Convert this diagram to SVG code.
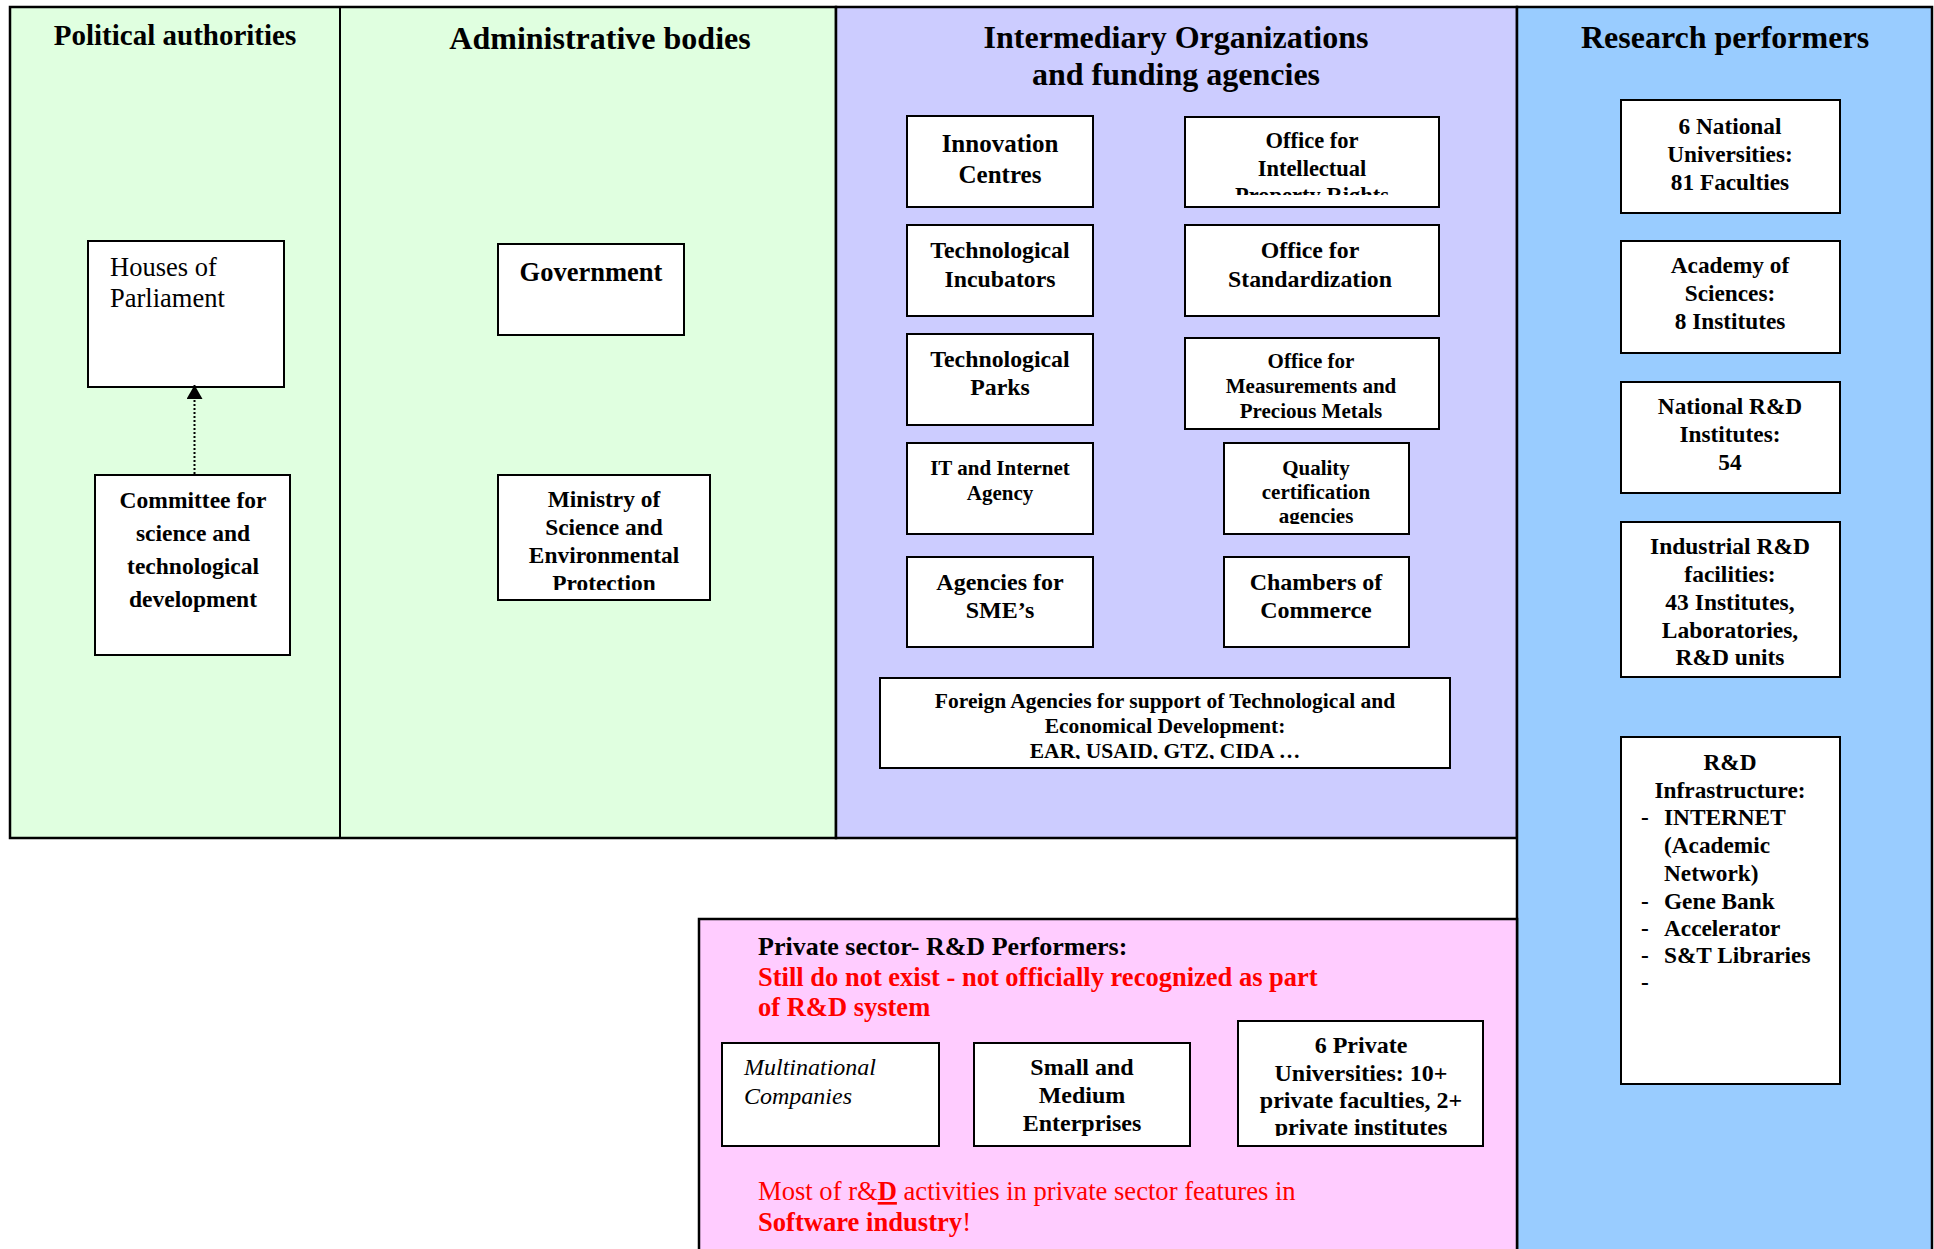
<svg xmlns="http://www.w3.org/2000/svg" width="1934" height="1249" viewBox="0 0 1934 1249">
<style>
text{font-family:"Liberation Serif","Times New Roman",serif;fill:#000}
.b{font-weight:bold}
.c{text-anchor:middle}
.t32{font-size:32px}
.box{fill:#fff;stroke:#000;stroke-width:2}
.panel{stroke:#000;stroke-width:2.5}
.red{fill:#ff0000}
</style>
<defs>
<marker id="ah" markerUnits="userSpaceOnUse" markerWidth="16" markerHeight="16" viewBox="0 0 14 16" refX="14" refY="8" orient="auto">
<path d="M0,0 L14,8 L0,16 z" fill="#000"/>
</marker>
<clipPath id="cIPR"><rect x="1185" y="117" width="254" height="78"/></clipPath>
<clipPath id="cMin"><rect x="498" y="475" width="212" height="115"/></clipPath>
<clipPath id="cQual"><rect x="1224" y="443" width="185" height="81"/></clipPath>
<clipPath id="cFor"><rect x="880" y="678" width="570" height="81"/></clipPath>
<clipPath id="cPriv"><rect x="1238" y="1021" width="245" height="115"/></clipPath>
</defs>

<g id="panels">
<rect class="panel" x="10" y="7" width="826" height="831" fill="#E0FFE0"/>
<line x1="340" y1="7" x2="340" y2="838" stroke="#000" stroke-width="2"/>
<rect class="panel" x="836" y="7" width="681" height="831" fill="#CCCCFF"/>
<rect class="panel" x="1517" y="7" width="415" height="1260" fill="#99CCFF"/>
<rect class="panel" x="699" y="919" width="818" height="350" fill="#FFCCFF"/>
<text class="b c" x="175" y="45" font-size="29">Political authorities</text>
<text class="b c t32" x="600" y="49">Administrative bodies</text>
<text class="b c t32" x="1176" y="48">Intermediary Organizations</text>
<text class="b c t32" x="1176" y="85">and funding agencies</text>
<text class="b c t32" x="1725" y="48">Research performers</text>
</g>

<g id="houses">
<rect class="box" x="88" y="241" width="196" height="146"/>
<text x="110" y="276" font-size="26.5">Houses of</text>
<text x="110" y="307" font-size="26.5">Parliament</text>
</g>
<g id="committee">
<rect class="box" x="95" y="475" width="195" height="180"/>
<text class="b c" x="193" font-size="23.5"><tspan x="193" y="508">Committee for</tspan><tspan x="193" y="541">science and</tspan><tspan x="193" y="574">technological</tspan><tspan x="193" y="607">development</tspan></text>
</g>
<g id="government">
<rect class="box" x="498" y="244" width="186" height="91"/>
<text class="b c" x="591" y="281" font-size="26.5">Government</text>
</g>
<g id="ministry">
<rect class="box" x="498" y="475" width="212" height="125"/>
<text class="b c" font-size="23.4" clip-path="url(#cMin)"><tspan x="604" y="507">Ministry of</tspan><tspan x="604" y="535">Science and</tspan><tspan x="604" y="563">Environmental</tspan><tspan x="604" y="591">Protection</tspan></text>
</g>

<g id="innovation">
<rect class="box" x="907" y="116" width="186" height="91"/>
<text class="b c" font-size="25"><tspan x="1000" y="152">Innovation</tspan><tspan x="1000" y="183">Centres</tspan></text>
</g>
<g id="ipr">
<rect class="box" x="1185" y="117" width="254" height="90"/>
<text class="b c" font-size="22.5" clip-path="url(#cIPR)"><tspan x="1312" y="148">Office for</tspan><tspan x="1312" y="176">Intellectual</tspan><tspan x="1312" y="203">Property Rights</tspan></text>
</g>
<g id="incubators">
<rect class="box" x="907" y="225" width="186" height="91"/>
<text class="b c" font-size="23.8"><tspan x="1000" y="258">Technological</tspan><tspan x="1000" y="287">Incubators</tspan></text>
</g>
<g id="standardization">
<rect class="box" x="1185" y="225" width="254" height="91"/>
<text class="b c" font-size="23.8"><tspan x="1310" y="258">Office for</tspan><tspan x="1310" y="287">Standardization</tspan></text>
</g>
<g id="parks">
<rect class="box" x="907" y="334" width="186" height="91"/>
<text class="b c" font-size="23.8"><tspan x="1000" y="367">Technological</tspan><tspan x="1000" y="395">Parks</tspan></text>
</g>
<g id="measurements">
<rect class="box" x="1185" y="338" width="254" height="91"/>
<text class="b c" font-size="21"><tspan x="1311" y="368">Office for</tspan><tspan x="1311" y="393">Measurements and</tspan><tspan x="1311" y="418">Precious Metals</tspan></text>
</g>
<g id="it-agency">
<rect class="box" x="907" y="443" width="186" height="91"/>
<text class="b c" font-size="21"><tspan x="1000" y="475">IT and Internet</tspan><tspan x="1000" y="500">Agency</tspan></text>
</g>
<g id="quality">
<rect class="box" x="1224" y="443" width="185" height="91"/>
<text class="b c" font-size="21" clip-path="url(#cQual)"><tspan x="1316" y="475">Quality</tspan><tspan x="1316" y="499">certification</tspan><tspan x="1316" y="523">agencies</tspan></text>
</g>
<g id="sme-agencies">
<rect class="box" x="907" y="557" width="186" height="90"/>
<text class="b c" font-size="24"><tspan x="1000" y="590">Agencies for</tspan><tspan x="1000" y="618">SME’s</tspan></text>
</g>
<g id="chambers">
<rect class="box" x="1224" y="557" width="185" height="90"/>
<text class="b c" font-size="24"><tspan x="1316" y="590">Chambers of</tspan><tspan x="1316" y="618">Commerce</tspan></text>
</g>
<g id="foreign">
<rect class="box" x="880" y="678" width="570" height="90"/>
<text class="b c" font-size="21.5" clip-path="url(#cFor)"><tspan x="1165" y="708">Foreign Agencies for support of Technological and</tspan><tspan x="1165" y="733">Economical Development:</tspan><tspan x="1165" y="758">EAR, USAID, GTZ, CIDA …</tspan></text>
</g>

<g id="universities">
<rect class="box" x="1621" y="100" width="219" height="113"/>
<text class="b c" font-size="23.3"><tspan x="1730" y="134">6 National</tspan><tspan x="1730" y="162">Universities:</tspan><tspan x="1730" y="190">81 Faculties</tspan></text>
</g>
<g id="academy">
<rect class="box" x="1621" y="241" width="219" height="112"/>
<text class="b c" font-size="23.3"><tspan x="1730" y="273">Academy of</tspan><tspan x="1730" y="301">Sciences:</tspan><tspan x="1730" y="329">8 Institutes</tspan></text>
</g>
<g id="national-rd">
<rect class="box" x="1621" y="382" width="219" height="111"/>
<text class="b c" font-size="23.3"><tspan x="1730" y="414">National R&amp;D</tspan><tspan x="1730" y="442">Institutes:</tspan><tspan x="1730" y="470">54</tspan></text>
</g>
<g id="industrial-rd">
<rect class="box" x="1621" y="522" width="219" height="155"/>
<text class="b c" font-size="23.5"><tspan x="1730" y="554">Industrial R&amp;D</tspan><tspan x="1730" y="582">facilities:</tspan><tspan x="1730" y="610">43 Institutes,</tspan><tspan x="1730" y="638">Laboratories,</tspan><tspan x="1730" y="665">R&amp;D units</tspan></text>
</g>
<g id="infrastructure">
<rect class="box" x="1621" y="737" width="219" height="347"/>
<text class="b c" font-size="23.3"><tspan x="1730" y="770">R&amp;D</tspan><tspan x="1730" y="798">Infrastructure:</tspan></text>
<text class="b" font-size="23.3"><tspan x="1641" y="825">-</tspan><tspan x="1664" y="825">INTERNET</tspan><tspan x="1664" y="853">(Academic</tspan><tspan x="1664" y="881">Network)</tspan><tspan x="1641" y="909">-</tspan><tspan x="1664" y="909">Gene Bank</tspan><tspan x="1641" y="936">-</tspan><tspan x="1664" y="936">Accelerator</tspan><tspan x="1641" y="963">-</tspan><tspan x="1664" y="963">S&amp;T Libraries</tspan><tspan x="1641" y="990">-</tspan></text>
</g>

<g id="private-sector">
<text class="b" x="758" y="955" font-size="26">Private sector- R&amp;D Performers:</text>
<text class="b red" x="758" y="986" font-size="26.5">Still do not exist - not officially recognized as part</text>
<text class="b red" x="758" y="1016" font-size="26.5">of R&amp;D system</text>
<text class="red" x="758" y="1200" font-size="26.6">Most of r&amp;<tspan font-weight="bold" text-decoration="underline">D</tspan> activities in private sector features in</text>
<text class="red" x="758" y="1231" font-size="26.6"><tspan font-weight="bold">Software industry</tspan>!</text>
</g>
<g id="multinational">
<rect class="box" x="722" y="1043" width="217" height="103"/>
<text font-style="italic" font-size="24"><tspan x="744" y="1075">Multinational</tspan><tspan x="744" y="1104">Companies</tspan></text>
</g>
<g id="sme">
<rect class="box" x="974" y="1043" width="216" height="103"/>
<text class="b c" font-size="24"><tspan x="1082" y="1075">Small and</tspan><tspan x="1082" y="1103">Medium</tspan><tspan x="1082" y="1131">Enterprises</tspan></text>
</g>
<g id="private-universities">
<rect class="box" x="1238" y="1021" width="245" height="125"/>
<text class="b c" font-size="24" clip-path="url(#cPriv)"><tspan x="1361" y="1053">6 Private</tspan><tspan x="1361" y="1081">Universities: 10+</tspan><tspan x="1361" y="1108">private faculties, 2+</tspan><tspan x="1361" y="1135">private institutes</tspan></text>
</g>

<g id="connectors">
<line x1="194.5" y1="474" x2="194.5" y2="385" stroke="#000" stroke-width="2" stroke-dasharray="2,2" marker-end="url(#ah)"/>
</g>
</svg>
